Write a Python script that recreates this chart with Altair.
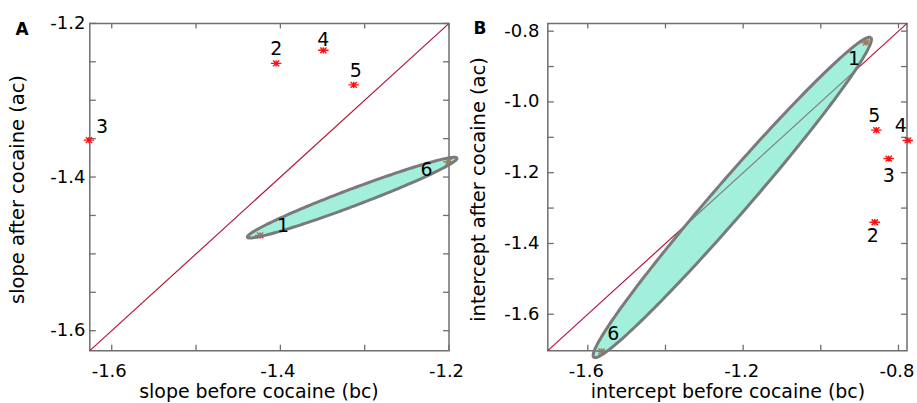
import numpy as np
import pandas as pd
import altair as alt

FONT = "DejaVu Sans"

# ---------------- Panel A : slopes ----------------
a_ids = ["1", "2", "3", "4", "5", "6"]
a_bc = [-1.424, -1.405, -1.627, -1.349, -1.313, -1.2005]
a_ac = [-1.476, -1.252, -1.352, -1.235, -1.280, -1.380]
a_domain = [-1.626, -1.2]
a_x_labels = [-1.6, -1.4, -1.2]
a_y_labels = [-1.6, -1.4, -1.2]
a_x_ticks = [-1.6, -1.5, -1.4, -1.3, -1.2]
a_y_ticks = [-1.6, -1.55, -1.5, -1.45, -1.4, -1.35, -1.3, -1.25, -1.2]
a_ell_center = [-1.3148, -1.4268]
a_ell_major = [0.1243, 0.0515]
a_ell_minor = [0.0036, -0.0103]

# ---------------- Panel B : intercepts ----------------
b_ids = ["1", "2", "3", "4", "5", "6"]
b_bc = [-0.8835, -0.861, -0.825, -0.776, -0.857, -1.565]
b_ac = [-0.832, -1.340, -1.160, -1.1088, -1.0796, -1.705]
b_domain = [-1.703, -0.778]
b_x_labels = [-1.6, -1.2, -0.8]
b_y_labels = [-1.6, -1.4, -1.2, -1.0, -0.8]
b_x_ticks = [-1.6, -1.4, -1.2, -1.0, -0.8]
b_y_ticks = [-1.6, -1.5, -1.4, -1.3, -1.2, -1.1, -1.0, -0.9, -0.8]
b_ell_center = [-1.2279, -1.2698]
b_ell_major = [0.3568, 0.4517]
b_ell_minor = [0.0339, -0.0326]

# label placement (pixel offsets from the point)
a_offsets = {"1": (23, -9), "2": (0, -14), "3": (13, -13), "4": (0, -10), "5": (2, -14), "6": (-22, 8)}
b_offsets = {"1": (-12, 17), "2": (-2, 14), "3": (0, 17), "4": (-7, -14), "5": (-2, -14), "6": (12, -17)}

ASTERISK = "M-1,0L1,0M-0.6,-0.55L0.6,0.55M-0.6,0.55L0.6,-0.55M0,-0.6L0,0.6"
LABEL_EXPR = "(datum.value < 0 ? '-' : '') + format(abs(datum.value), '.1f')"
W, H = 360, 328
FRAME = "#6e6e6e"


def panel(ids, bc, ac, domain, xlab, ylab, xt, yt, ec, eM, em, offsets,
          letter, xtitle, ytitle, ytitle_x, ylab_pad, xlab_off, letter_y, xtitle_x, anchor):
    xs = alt.Scale(domain=domain, nice=False, zero=False)
    ys = alt.Scale(domain=domain, nice=False, zero=False)
    pts = pd.DataFrame({"id": ids, "bc": bc, "ac": ac})
    diag = pd.DataFrame({"bc": domain, "ac": domain})

    tt = np.linspace(0, 2 * np.pi, 181)
    ell = pd.DataFrame({
        "t": np.arange(len(tt)),
        "bc": ec[0] + eM[0] * np.cos(tt) + em[0] * np.sin(tt),
        "ac": ec[1] + eM[1] * np.cos(tt) + em[1] * np.sin(tt),
    })

    xaxis = alt.Axis(values=xlab, labelExpr=LABEL_EXPR, ticks=False, tickSize=0, domain=False,
                     grid=False, labelFlush=False, labelOverlap=False, labelPadding=12,
                     labelFontSize=18, labelColor="black", labelOffset=xlab_off,
                     title=xtitle, titleFontSize=19, titleFontWeight="normal",
                     titleColor="black", titleX=xtitle_x,
                     titleY=41, titleBaseline="middle", titleAlign="center")
    yaxis = alt.Axis(values=ylab, labelExpr=LABEL_EXPR, ticks=False, tickSize=0, domain=False,
                     grid=False, labelFlush=False, labelOverlap=False, labelPadding=ylab_pad,
                     labelFontSize=18, labelColor="black",
                     title=ytitle, titleFontSize=19.5, titleFontWeight="normal",
                     titleColor="black", titleX=ytitle_x, titleY=H / 2 + 2,
                     titleAngle=-90, titleBaseline="middle", titleAlign="center")

    def X(f):
        return alt.X(f, scale=xs, axis=xaxis)

    def Y(f):
        return alt.Y(f, scale=ys, axis=yaxis)

    xt_df = pd.DataFrame({"v": xt})
    yt_df = pd.DataFrame({"v": yt})
    tick_style = dict(color=FRAME, strokeWidth=1.3)
    ticks = [
        alt.Chart(xt_df).mark_rule(**tick_style).encode(
            x=X("v:Q"), y=alt.value(H), y2=alt.value(H - 6)),
        alt.Chart(xt_df).mark_rule(**tick_style).encode(
            x=X("v:Q"), y=alt.value(0), y2=alt.value(5)),
        alt.Chart(yt_df).mark_rule(**tick_style).encode(
            y=Y("v:Q"), x=alt.value(0), x2=alt.value(6)),
        alt.Chart(yt_df).mark_rule(**tick_style).encode(
            y=Y("v:Q"), x=alt.value(W), x2=alt.value(W - 6)),
    ]

    diag_layer = alt.Chart(diag).mark_line(color="#b5173a", strokeWidth=1.2).encode(
        x=X("bc:Q"), y=Y("ac:Q"))
    pts_layer = alt.Chart(pts).mark_point(shape=ASTERISK, size=110, filled=False,
                                          stroke="#ff1010", strokeWidth=1.4, opacity=1).encode(
        x=X("bc:Q"), y=Y("ac:Q"))
    ell_layer = alt.Chart(ell).mark_line(fill="#45e0b8", fillOpacity=0.5, stroke="#7a7a7a",
                                         strokeWidth=3, strokeJoin="round").encode(
        x=X("bc:Q"), y=Y("ac:Q"), order=alt.Order("t:Q"))
    labels = []
    for i in ids:
        dx, dy = offsets[i]
        labels.append(
            alt.Chart(pts[pts["id"] == i]).mark_text(
                dx=dx, dy=dy, fontSize=19, font=FONT, color="black",
                align="center", baseline="middle").encode(
                x=X("bc:Q"), y=Y("ac:Q"), text="id:N")
        )
    letter_layer = alt.Chart(pd.DataFrame({"L": [letter]})).mark_text(
        fontSize=17, fontWeight="bold", font=FONT, color="black",
        align="center", baseline="middle").encode(
        text="L:N", x=alt.value(-68), y=alt.value(letter_y))

    layers = [diag_layer, *ticks, pts_layer, ell_layer, *labels, letter_layer]
    if anchor:
        # invisible frame fixing the page margin (left / top extents)
        layers.append(
            alt.Chart(pd.DataFrame({"k": [0]})).mark_rule(opacity=0, strokeOpacity=0).encode(
                x=alt.value(-89), y=alt.value(-22), y2=alt.value(H + 53))
        )
    return alt.layer(*layers).properties(width=W, height=H)


pA = panel(a_ids, a_bc, a_ac, a_domain, a_x_labels, a_y_labels, a_x_ticks, a_y_ticks,
           a_ell_center, a_ell_major, a_ell_minor, a_offsets, "A",
           "slope before cocaine (bc)", "slope after cocaine (ac)", -72.5, 5, -3, 7, W / 2 - 11, True)
pB = panel(b_ids, b_bc, b_ac, b_domain, b_x_labels, b_y_labels, b_x_ticks, b_y_ticks,
           b_ell_center, b_ell_major, b_ell_minor, b_offsets, "B",
           "intercept before cocaine (bc)", "intercept after cocaine (ac)", -69, 9, -2, 5.5, W / 2, False)

chart = alt.hconcat(pA, pB, spacing=99, bounds="flush").properties(
    padding={"left": 0, "top": 0, "right": 0, "bottom": 0},
).configure(font=FONT).configure_view(stroke=FRAME, strokeWidth=1.5)

chart.save("out.html", embed_options={"renderer": "svg", "actions": False})
